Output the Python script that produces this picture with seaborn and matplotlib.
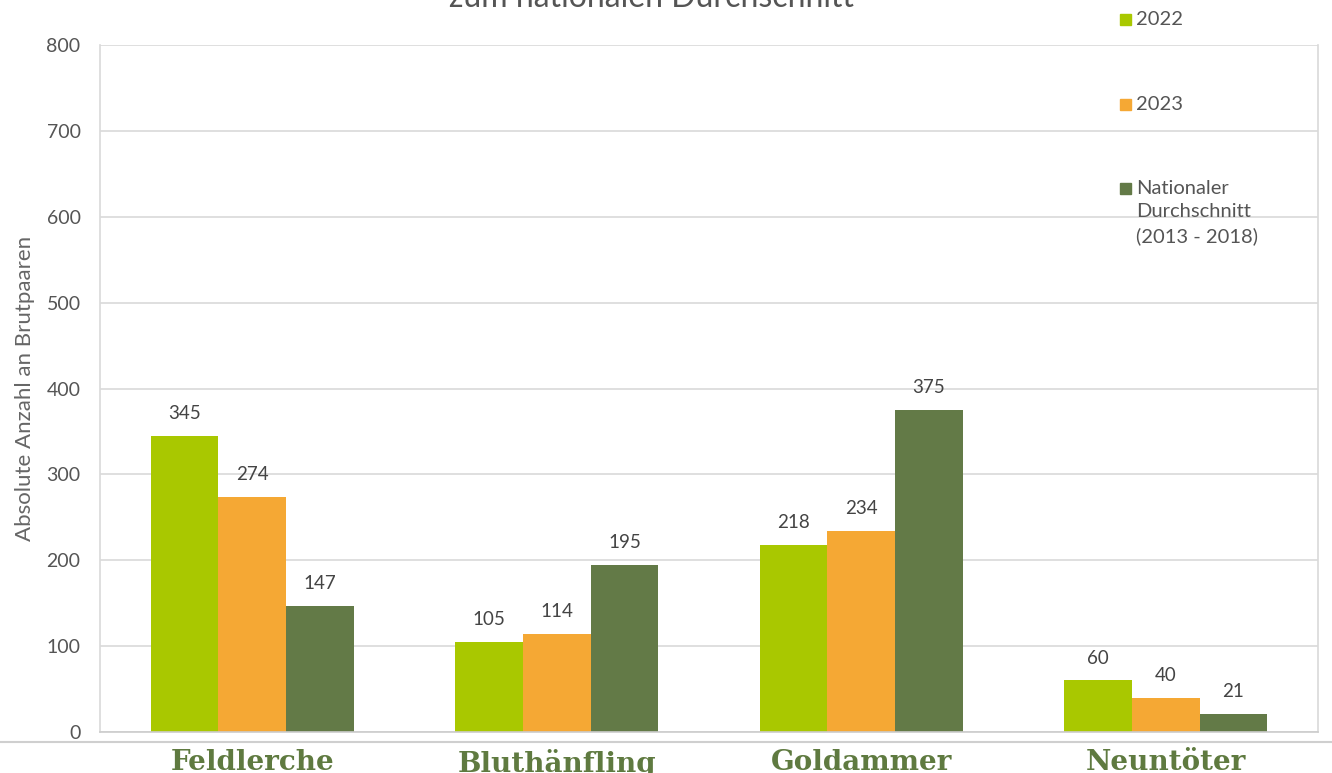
import matplotlib
matplotlib.use("Agg")
import matplotlib.pyplot as plt
import seaborn as sns
import pandas as pd
from matplotlib.lines import Line2D
from matplotlib.patches import Rectangle

species = ["Feldlerche", "Bluthänfling", "Goldammer", "Neuntöter"]
series = ["2022", "2023", "Nationaler\nDurchschnitt\n(2013 - 2018)"]
v2022 = [345, 105, 218, 60]
v2023 = [274, 114, 234, 40]
vnat = [147, 195, 375, 21]
colors = ["#a9c800", "#f5a834", "#637a47"]
yticks = [0, 100, 200, 300, 400, 500, 600, 700, 800]

rows = []
for s, vals in zip(series, [v2022, v2023, vnat]):
    for sp, v in zip(species, vals):
        rows.append({"Art": sp, "Serie": s, "Wert": v})
df = pd.DataFrame(rows)

sns.set_theme(style="white")
plt.rcParams["font.family"] = ["Lato", "DejaVu Sans"]

W, H = 1332, 773
fig = plt.figure(figsize=(W/100, H/100), dpi=100)
ax = fig.add_axes([100/W, 1-732/H, 1218/W, 687/H])

sns.barplot(data=df, x="Art", y="Wert", hue="Serie", order=species,
            hue_order=series, palette=colors, width=0.667, saturation=1,
            linewidth=0, ax=ax, legend=False)
for c in ax.containers:
    ax.bar_label(c, padding=10, fontsize=13.5, color="#444444")

ax.set_ylim(0, 800)
ax.set_xlim(-0.5, 3.5)
ax.set_yticks(yticks)
ax.set_yticklabels([str(t) for t in yticks], fontsize=14, color="#555555")
ax.tick_params(axis="y", length=0, pad=14)
ax.yaxis.grid(True, color="#d9d9d9", linewidth=1.2)
ax.set_axisbelow(True)
ax.set_xlabel("")
ax.set_ylabel("Absolute Anzahl an Brutpaaren", fontsize=16, color="#666666", labelpad=8)
ax.set_xticks(range(len(species)))
ax.set_xticklabels(species, fontsize=20, fontweight="bold", color="#5f7a40",
                   family=["DejaVu Serif"])
ax.tick_params(axis="x", length=0, pad=12)
for side in ["left", "right"]:
    ax.spines[side].set_color("#d9d9d9")
    ax.spines[side].set_linewidth(1.2)
ax.spines["top"].set_visible(False)
ax.spines["bottom"].set_color("#cccccc")
ax.spines["bottom"].set_linewidth(1.2)

# legend (manual, first line aligned with square)
leg_y = [19, 104, 188]
for col, lab, yc in zip(colors, series, leg_y):
    fig.add_artist(Rectangle((1120/W, 1-(yc+6)/H), 11/W, 11/H, color=col,
                             transform=fig.transFigure))
    fig.text(1136/W, 1-(yc-8)/H, lab, ha="left", va="top", fontsize=14.5,
             color="#555555", linespacing=1.45)

# horizontal line below axis
fig.add_artist(Line2D([0, 1], [1-742/H, 1-742/H], color="#cfcfcf", linewidth=1.5,
                      transform=fig.transFigure, zorder=0))

# cut-off title
fig.text(0.489, 1-7/H, "zum nationalen Durchschnitt", ha="center", va="baseline",
         fontsize=23, color="#555555")

fig.savefig("out.png", dpi=100)
